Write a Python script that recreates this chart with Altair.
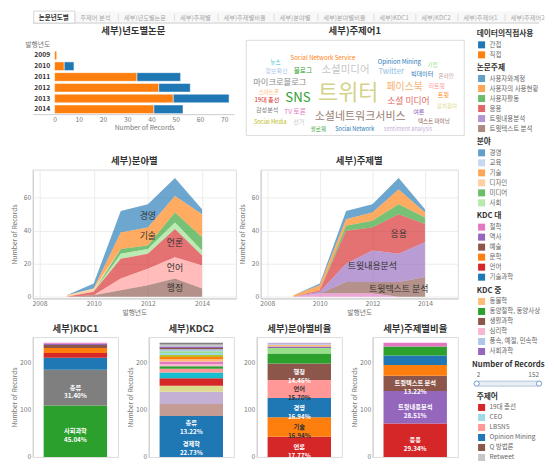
import math
import altair as alt
import pandas as pd

FONT = "Noto Sans CJK KR"

T10 = ["#1f77b4", "#ff7f0e", "#2ca02c", "#d62728", "#9467bd", "#8c564b",
       "#e377c2", "#7f7f7f", "#bcbd22", "#17becf"]
T20 = ["#1f77b4", "#aec7e8", "#ff7f0e", "#ffbb78", "#2ca02c", "#98df8a",
       "#d62728", "#ff9896", "#9467bd", "#c5b0d5", "#8c564b", "#c49c94",
       "#e377c2", "#f7b6d2", "#7f7f7f", "#c7c7c7", "#bcbd22", "#dbdb8d",
       "#17becf", "#9edae5"]

# ---------------- data ----------------
tab_names = ["논문년도별", "주제어 분석", "세부)년도별논문", "세부)주제별", "세부)주제별비율",
             "세부)분야별", "세부)분야별비율", "세부)KDC1", "세부)KDC2", "세부)주제어1", "세부)주제어2"]
selected_tab = "논문년도별"

years = [2009, 2010, 2011, 2012, 2013, 2014]
year_header = "발행년도"
use_names = ["간접", "직접"]
indirect_counts = [0, 4, 18, 13, 23, 12]
direct_counts = [1, 4, 34, 43, 49, 41]

field_names = ["경영", "교육", "기술", "디자인", "미디어", "사회", "언론", "언어", "정치", "통신", "행정"]
field_mgmt = [0, 3, 13, 14, 11, 3]
field_edu = [0, 0, 0, 0, 0, 0]
field_tech = [0, 0, 10, 11, 10, 14]
field_design = [1, 2, 0, 0, 0, 0]
field_media = [0, 0, 3, 2, 6, 8]
field_society = [0, 0, 3, 3, 4, 3]
field_press = [0, 2, 12, 9, 17, 6]
field_lang = [0, 0, 7, 10, 13, 14]
field_politics = [0, 0, 0, 0, 0, 0]
field_comm = [0, 0, 0, 0, 0, 0]
field_admin = [0, 1, 4, 7, 11, 5]
field_labeled = ["경영", "기술", "언론", "언어", "행정"]

topic_names = ["사용자와계정", "사용자의 사용현황", "사용자활동", "응용", "트윗내용분석", "트윗텍스트 분석", "트윗확산"]
topic_account = [0, 1, 5, 5, 7, 2]
topic_usage = [1, 3, 4, 5, 9, 3]
topic_activity = [0, 0, 3, 4, 6, 4]
topic_apply = [0, 1, 20, 14, 24, 11]
topic_content = [0, 1, 11, 19, 17, 21]
topic_text = [0, 0, 7, 7, 9, 12]
topic_spread = [0, 2, 2, 2, 0, 0]
topic_labeled = ["응용", "트윗내용분석", "트윗텍스트 분석"]

kdc_major_domain = ["기술과학", "문학", "사회과학", "언어", "역사", "예술", "철학", "총류"]
kdc1_names = ["사회과학", "총류", "기술과학", "언어", "문학", "예술", "역사", "철학"]
kdc1_counts = [109, 76, 25, 10, 11, 6, 3, 2]

kdc2_names = ["경제학", "총류", "사회학, 사회문제", "정치학", "행정학", "신문, 저널리즘", "교육학", "법학",
              "동양철학, 동양사상", "심리학", "철학", "동물학", "예술", "문학", "통계학", "언어학",
              "풍속, 예절, 민속학", "생활과학", "사회과학", "컴퓨터과학", "역사"]
kdc2_counts = [55, 32, 25, 26, 13, 16, 12, 8, 5, 5, 5, 5, 5, 4, 4, 4, 4, 3, 3, 4, 4]
kdc2_colors = ["#1f77b4", "#1f77b4", "#c49c94", "#c5b0d5", "#dbdb8d", "#d62728", "#17becf", "#ff9896",
               "#2ca02c", "#f7b6d2", "#e377c2", "#ffbb78", "#ff7f0e", "#bcbd22", "#9edae5", "#98df8a",
               "#aec7e8", "#8c564b", "#9467bd", "#c7c7c7", "#7f7f7f"]

ratio_field_names = ["언론", "기술", "경영", "언어", "행정", "미디어", "사회", "정치", "디자인", "교육", "통신"]
ratio_field_counts = [43, 41, 41, 38, 35, 21, 12, 3, 3, 2, 3]

ratio_topic_names = ["응용", "트윗내용분석", "트윗텍스트 분석", "사용자의 사용현황", "사용자와계정", "사용자활동", "트윗확산"]
ratio_topic_counts = [71, 69, 32, 23, 20, 19, 8]

legend_kdc_major = ["철학", "역사", "예술", "문학", "언어", "기술과학"]
legend_kdc_mid = ["동물학", "동양철학, 동양사상", "생활과학", "심리학", "풍속, 예절, 민속학", "사회과학"]
legend_kdc_mid_colors = ["#ffbb78", "#2ca02c", "#8c564b", "#f7b6d2", "#aec7e8", "#9467bd"]
legend_keywords = ["19대 총선", "CEO", "LBSNS", "Opinion Mining", "Q 방법론", "Retweet"]
legend_keyword_colors = ["#d62728", "#9edae5", "#ff9896", "#1f77b4", "#8c564b", "#c7c7c7"]

records_min = 2
records_max = 152

cloud_words = ["트위터", "SNS", "소셜네트워크서비스", "소셜미디어", "페이스북", "소셜 미디어", "마이크로블로그",
               "Twitter", "TV 토론", "블로그", "Social Network Service", "Opinion Mining", "19대 총선",
               "빅데이터", "리트윗", "Social Network", "sentiment analysis", "Social Media",
               "감성분석", "정보확산", "스마트폰", "텍스트 마이닝", "네트워크 분석", "정치참여", "커뮤니케이션",
               "팔로워", "해시태그", "사회자본", "이용동기", "여론", "선거", "온라인", "모바일", "뉴스",
               "정치인", "기업", "홍보", "광고", "저널리즘", "공공기관", "위치기반서비스", "신뢰", "영향력",
               "소통", "이슈", "재난", "트윗", "형태소 분석", "군집분석", "사회연결망", "인플루언서",
               "정보공유", "소셜 네트워크", "공중관계", "뉴미디어", "유명인", "정당", "투표", "시민",
               "도서관", "마케팅", "브랜드", "대학생", "청소년", "언론사", "기자", "방송", "토픽모델링",
               "연결망", "매개중심성", "의제설정", "정치커뮤니케이션", "자기노출", "프라이버시", "이용자",
               "만족도", "사회적 지지", "데이터 마이닝", "위기관리", "정부", "지방자치단체", "관광",
               "감정분석", "사용자 행태", "정보검색", "추천시스템", "스팸", "루머", "집단지성", "참여",
               "전자정부", "공공도서관", "정보서비스", "온라인 커뮤니티", "질적연구", "내용분석",
               "Retweet", "CEO", "LBSNS", "URL", "Q 방법론", "CMC", "Hashtag", "Big Data", "Web 2.0"]
cloud_weights = [32, 16, 12, 11, 10, 8, 7,
                 6, 4, 4, 3, 3, 3,
                 3, 3, 2, 2, 2,
                 3, 3, 2, 2, 2, 2, 2,
                 2, 2, 2, 2, 3, 3, 2, 2, 2,
                 2, 2, 2, 2, 2, 2, 2, 2, 2,
                 2, 2, 2, 3, 2, 2, 2, 2,
                 2, 2, 2, 2, 2, 2, 2, 2,
                 2, 2, 2, 2, 2, 2, 2, 2, 2,
                 2, 2, 2, 2, 2, 2, 2,
                 2, 2, 2, 2, 2, 2, 2,
                 2, 2, 2, 2, 2, 2, 2, 2,
                 2, 2, 2, 2, 2, 2,
                 2, 2, 2, 2, 2, 2, 2, 2, 2]
cloud_named_colors = {"트위터": "#d4d28c", "SNS": "#2ca02c", "소셜네트워크서비스": "#9c8175",
                      "소셜미디어": "#c7c7c7", "페이스북": "#f7b26e", "소셜 미디어": "#e06b66",
                      "마이크로블로그": "#8a8a8a", "Twitter": "#8fbbe0", "TV 토론": "#e377c2",
                      "블로그": "#2ca02c", "Social Network Service": "#ff7f0e",
                      "Opinion Mining": "#1f77b4", "19대 총선": "#d62728", "Social Network": "#1f77b4",
                      "Retweet": "#c7c7c7", "CEO": "#9edae5", "LBSNS": "#ff9896", "Q 방법론": "#8c564b"}


# ---------------- helpers ----------------
def text_w(s, fs):
    w = 0.0
    for ch in s:
        o = ord(ch)
        if 0xAC00 <= o <= 0xD7A3:
            w += 1.0
        elif ch == " ":
            w += 0.3
        elif ch.isupper():
            w += 0.72
        elif ch.isdigit():
            w += 0.58
        elif ch in "iljtf.,:;|!()'":
            w += 0.32
        elif ch in "mw":
            w += 0.88
        else:
            w += 0.6
    return w * fs


def text_color_for(hex_color):
    r = int(hex_color[1:3], 16) / 255
    g = int(hex_color[3:5], 16) / 255
    b = int(hex_color[5:7], 16) / 255
    lum = 0.2126 * r + 0.7152 * g + 0.0722 * b
    return "#333333" if lum > 0.55 else "#ffffff"


NOBOX = alt.ViewBackground(stroke="transparent")
AX_EXT = 13      # fixed extent of left axes (labels part)
LEFT_EXT = 24    # left overhang of the first column (axis labels + title)
LEFT_PAD = 3
TOTAL_W = 538 - LEFT_PAD

# ---------------- tab bar ----------------
tab_fs = 6.3
tab_rows = []
cur = 30
for nm in tab_names:
    w = text_w(nm, tab_fs)
    tab_rows.append({"name": nm, "tx": cur, "x1": cur - 5, "x2": cur + w + 5,
                     "sel": 1 if nm == selected_tab else 0})
    cur += w + 10.5
tab_df = pd.DataFrame(tab_rows)
tab_df = tab_df[tab_df["tx"] + 10 < TOTAL_W]
xs_tab = alt.Scale(domain=[LEFT_EXT, TOTAL_W], nice=False, zero=False)
tab_sel = alt.Chart(tab_df).transform_filter("datum.sel == 1").mark_rect(
    fill="white", stroke="#cccccc", strokeWidth=0.8).encode(
    x=alt.X("x1:Q", scale=xs_tab, axis=None), x2="x2:Q", y=alt.value(0), y2=alt.value(12))
tab_sep = alt.Chart(tab_df).transform_filter("datum.x2 < %d" % TOTAL_W).mark_rule(color="#dddddd").encode(
    x=alt.X("x2:Q", scale=xs_tab, axis=None), y=alt.value(3), y2=alt.value(10))
tab_line = alt.Chart(pd.DataFrame({"a": [LEFT_EXT], "b": [TOTAL_W]})).mark_rule(color="#cccccc").encode(
    x=alt.X("a:Q", scale=xs_tab, axis=None), x2="b:Q", y=alt.value(12))
tab_txt_n = alt.Chart(tab_df).transform_filter("datum.sel == 0").mark_text(
    align="left", baseline="middle", fontSize=tab_fs, color="#aaaaaa").encode(
    x=alt.X("tx:Q", scale=xs_tab, axis=None), y=alt.value(6.5), text="name:N")
tab_txt_s = alt.Chart(tab_df).transform_filter("datum.sel == 1").mark_text(
    align="left", baseline="middle", fontSize=6.6, fontWeight="bold", color="#333333").encode(
    x=alt.X("tx:Q", scale=xs_tab, axis=None), y=alt.value(6.5), text="name:N")
tabs = alt.layer(tab_line, tab_sel, tab_sep, tab_txt_n, tab_txt_s).properties(
    width=TOTAL_W - LEFT_EXT, height=12, view=alt.ViewBackground(stroke="transparent", fill="#f8f8f8"))

# ---------------- year bar chart ----------------
bar_rows = []
for y, d, i in zip(years, direct_counts, indirect_counts):
    bar_rows.append({"yl": str(y), "kind": "직접", "count": d, "ord": 0})
    bar_rows.append({"yl": str(y), "kind": "간접", "count": i, "ord": 1})
bar_df = pd.DataFrame(bar_rows)
BAR_W = 203
BAR_IN = 22
bar_xmax = 74
bar_xmin = -BAR_IN * bar_xmax / (BAR_W - BAR_IN)
year_bar = alt.Chart(bar_df).mark_bar(stroke="white", strokeWidth=0.5).encode(
    y=alt.Y("yl:N", scale=alt.Scale(domain=[year_header] + [str(y) for y in years],
                                    paddingInner=0.2, paddingOuter=0.05),
            axis=alt.Axis(title=None, offset=-BAR_IN, domain=False, ticks=False, labelPadding=5,
                          labelFontWeight={"condition": {"test": "datum.value == '%s'" % year_header,
                                                         "value": "normal"}, "value": "bold"},
                          labelColor={"condition": {"test": "datum.value == '%s'" % year_header,
                                                    "value": "#777777"}, "value": "#333333"})),
    x=alt.X("count:Q", stack="zero", scale=alt.Scale(domain=[bar_xmin, bar_xmax], nice=False, zero=False),
            axis=alt.Axis(values=list(range(0, 80, 10)), title="Number of Records", grid=False,
                          titleX=BAR_IN + (BAR_W - BAR_IN) / 2)),
    color=alt.Color("kind:N", scale=alt.Scale(domain=use_names, range=["#1f77b4", "#ff7f0e"]), legend=None),
    order=alt.Order("ord:Q"),
).properties(width=BAR_W, height=75, title="세부)년도별논문", view=NOBOX)

# ---------------- word cloud ----------------
CW, CH = 220, 96


def layout_cloud(words, weights):
    order = sorted(range(len(words)), key=lambda k: -weights[k])
    boxes, rows = [], []
    cx, cy = CW * 0.47, CH * 0.56
    ci = 0
    for k in order:
        fs = 4.5 + 0.55 * weights[k]
        w = text_w(words[k], fs) + 3
        h = fs * 1.4 + 0.4
        t = 0.0
        while t < 160:
            r = 0.27 * t
            x = cx + 2.7 * r * math.cos(t)
            y = cy + r * math.sin(t)
            b = (x - w / 2, y - h / 2, x + w / 2, y + h / 2)
            if b[0] >= 3 and b[2] <= CW - 3 and b[1] >= 10 and b[3] <= CH:
                if not any(b[0] < c[2] and b[2] > c[0] and b[1] < c[3] and b[3] > c[1] for c in boxes):
                    boxes.append(b)
                    col = cloud_named_colors.get(words[k])
                    if col is None:
                        col = T20[(ci * 7) % 20]
                        ci += 1
                    rows.append({"word": words[k], "x": x, "y": y, "fs": fs, "color": col})
                    break
            t += 0.05
    return pd.DataFrame(rows)


cloud_df = layout_cloud(cloud_words, cloud_weights)
cloud = alt.Chart(cloud_df).mark_text(align="center", baseline="middle").encode(
    x=alt.X("x:Q", scale=alt.Scale(domain=[0, CW], nice=False, zero=False), axis=None),
    y=alt.Y("y:Q", scale=alt.Scale(domain=[0, CH], nice=False, zero=False, reverse=True), axis=None),
    text="word:N",
    size=alt.Size("fs:Q", scale=None),
    color=alt.Color("color:N", scale=None),
).properties(width=CW, height=CH, title="세부)주제어1")


# ---------------- area charts ----------------
def area_chart(title, names, series, colors, labeled, width):
    n = len(names)
    rows = []
    for i, (nm, vals) in enumerate(zip(names, series)):
        for y, v in zip(years, vals):
            rows.append({"year": y, "name": nm, "value": v, "ord": n - i})
    df = pd.DataFrame(rows)
    lab = []
    for nm in labeled:
        i = names.index(nm)
        vals = series[i]
        best = max(range(2, 5), key=lambda j: vals[j])
        below = sum(series[k][best] for k in range(i + 1, n))
        lab.append({"name": nm, "year": years[best], "mid": below + vals[best] / 2})
    lab_df = pd.DataFrame(lab)
    xs = alt.Scale(domain=[2007.75, 2015.25], nice=False, zero=False)
    ys = alt.Scale(domain=[-1, 77], nice=False, zero=False)
    area = alt.Chart(df).mark_area(opacity=0.65).encode(
        x=alt.X("year:Q", scale=xs, axis=alt.Axis(values=list(range(2008, 2016)), format="d",
                                                   title="발행년도", grid=True, labelFlush=False)),
        y=alt.Y("value:Q", stack="zero", scale=ys,
                axis=alt.Axis(values=[0, 20, 40, 60], title="Number of Records", grid=True,
                              minExtent=AX_EXT, maxExtent=AX_EXT)),
        color=alt.Color("name:N", scale=alt.Scale(domain=names, range=colors), legend=None),
        order=alt.Order("ord:Q"),
    )
    txt = alt.Chart(lab_df).mark_text(fontSize=9, color="#333333", baseline="middle").encode(
        x=alt.X("year:Q", scale=xs), y=alt.Y("mid:Q", scale=ys), text="name:N")
    return alt.layer(area, txt).properties(width=width, height=130, title=title)


area1 = area_chart("세부)분야별", field_names,
                   [field_mgmt, field_edu, field_tech, field_design, field_media, field_society,
                    field_press, field_lang, field_politics, field_comm, field_admin],
                   T20[:11], field_labeled, 205)
area2 = area_chart("세부)주제별", topic_names,
                   [topic_account, topic_usage, topic_activity, topic_apply, topic_content,
                    topic_text, topic_spread],
                   T10[:7], topic_labeled, 199)


# ---------------- stacked ratio bars ----------------
def ratio_chart(title, names, counts, colors, axis_title=True):
    total = sum(counts)
    df = pd.DataFrame({"name": names, "count": counts, "color": colors})
    df["ord"] = range(len(df))
    df["k"] = "all"
    df["top"] = df["count"].cumsum()
    df["mid"] = df["top"] - df["count"] / 2
    df["pct"] = df["count"] / total * 100
    df["txt"] = [f"{nm}\n{p:.2f}%" if p >= 12 else "" for nm, p in zip(df["name"], df["pct"])]
    df["tc"] = [text_color_for(c) for c in df["color"]]
    ys = alt.Scale(domain=[0, 254], nice=False)
    yax = alt.Axis(values=[0, 50, 100, 150, 200, 250], grid=False, minExtent=AX_EXT, maxExtent=AX_EXT,
                   title="Number of Records" if axis_title else None)
    bars = alt.Chart(df).mark_bar(size=64).encode(
        x=alt.X("k:N", axis=None),
        y=alt.Y("count:Q", stack="zero", scale=ys, axis=yax),
        color=alt.Color("color:N", scale=None),
        order=alt.Order("ord:Q"),
    )
    txt = alt.Chart(df).transform_filter("datum.txt != ''").mark_text(
        lineBreak="\n", fontSize=6.3, fontWeight="bold", baseline="middle", lineHeight=9).encode(
        x=alt.X("k:N", axis=None), y=alt.Y("mid:Q", scale=ys), text="txt:N",
        color=alt.Color("tc:N", scale=None))
    return alt.layer(bars, txt).properties(width=86, height=121, title=title)


kdc1_colors = [T10[kdc_major_domain.index(n)] for n in kdc1_names]
kdc1 = ratio_chart("세부)KDC1", kdc1_names, kdc1_counts, kdc1_colors)
kdc2 = ratio_chart("세부)KDC2", kdc2_names, kdc2_counts, kdc2_colors)
ratio_field = ratio_chart("세부)분야별비율", ratio_field_names, ratio_field_counts,
                          [T20[field_names.index(n)] for n in ratio_field_names], axis_title=False)
ratio_topic = ratio_chart("세부)주제별비율", ratio_topic_names, ratio_topic_counts,
                          [T10[topic_names.index(n)] for n in ratio_topic_names])

# ---------------- legends column ----------------
LEG_W = 67
LEG_STEP = 10.1


def legend_block(title, labels, colors, opacity=1.0):
    df = pd.DataFrame({"label": labels, "color": colors})
    ey = alt.Y("label:N", sort=labels, axis=None)
    sq = alt.Chart(df).mark_square(size=50, opacity=opacity).encode(
        x=alt.value(5), y=ey, color=alt.Color("color:N", scale=None))
    tt = alt.Chart(df).mark_text(align="left", baseline="middle", fontSize=6.5, color="#666666").encode(
        x=alt.value(13), y=ey, text="label:N")
    return alt.layer(sq, tt).properties(
        width=LEG_W, height=LEG_STEP * len(labels), view=NOBOX,
        title=alt.TitleParams(title, anchor="start", fontSize=7.8, fontWeight="bold", color="#333333", offset=2))


leg1 = legend_block("데이터의직접사용", use_names, ["#1f77b4", "#ff7f0e"])
leg2 = legend_block("논문주제", topic_names[:6], T10[:6], opacity=0.7)
leg3 = legend_block("분야", field_names[:6], T20[:6], opacity=0.7)
leg4 = legend_block("KDC 대", legend_kdc_major, [T10[kdc_major_domain.index(n)] for n in legend_kdc_major])
leg5 = legend_block("KDC 중", legend_kdc_mid, legend_kdc_mid_colors)

sl_df = pd.DataFrame({"lo": [records_min], "hi": [records_max]})
sl_pts = pd.DataFrame({"v": [records_min, records_max]})
sl_x = alt.Scale(domain=[records_min, records_max], nice=False, zero=False)
sl_track = alt.Chart(sl_df).mark_bar(height=5, cornerRadius=2.5, color="#e9eef4", stroke="#9db7d1",
                                     strokeWidth=0.8).encode(
    x=alt.X("lo:Q", scale=sl_x, axis=None), x2="hi:Q", y=alt.value(13))
sl_handles = alt.Chart(sl_pts).mark_circle(size=28, color="white", stroke="#6d9bc8", strokeWidth=1,
                                           opacity=1).encode(
    x=alt.X("v:Q", scale=sl_x, axis=None), y=alt.value(13))
sl_lo = alt.Chart(sl_df).mark_text(align="left", baseline="middle", fontSize=6.5, color="#666666").encode(
    x=alt.X("lo:Q", scale=sl_x, axis=None), y=alt.value(4), text="lo:Q")
sl_hi = alt.Chart(sl_df).mark_text(align="right", baseline="middle", fontSize=6.5, color="#666666").encode(
    x=alt.X("hi:Q", scale=sl_x, axis=None), y=alt.value(4), text="hi:Q")
slider = alt.layer(sl_track, sl_handles, sl_lo, sl_hi).properties(
    width=LEG_W - 4, height=17, view=NOBOX,
    title=alt.TitleParams("Number of Records", anchor="start", fontSize=7.8, fontWeight="bold",
                          color="#333333", offset=2))
leg7 = legend_block("주제어", legend_keywords, legend_keyword_colors)

legend_col = alt.vconcat(leg1, leg2, leg3, leg4, leg5, slider, leg7, spacing=2).resolve_scale(
    color="independent")

# ---------------- assemble ----------------
row1 = alt.hconcat(year_bar, cloud, spacing=10).resolve_scale(color="independent")
row2 = alt.hconcat(area1, area2, spacing=2).resolve_scale(color="independent")
row3 = alt.hconcat(kdc1, kdc2, ratio_field, ratio_topic, spacing=8).resolve_scale(color="independent")
lower = alt.vconcat(row2, row3, spacing=6).resolve_scale(color="independent")
main = alt.vconcat(row1, lower, spacing=20).resolve_scale(color="independent")
body = alt.hconcat(main, legend_col, spacing=6).resolve_scale(color="independent")

chart = alt.vconcat(tabs, body, spacing=2).resolve_scale(color="independent").properties(
    padding={"left": LEFT_PAD, "top": 0, "right": 0, "bottom": 0}
).configure(
    font=FONT
).configure_axis(
    labelFontSize=6.8, labelColor="#777777", titleFontSize=6.8, titleColor="#777777",
    titleFontWeight="normal", domainColor="#cccccc", ticks=False,
    gridColor="#ececec", labelPadding=2, titlePadding=2
).configure_title(
    fontSize=9.5, fontWeight="bold", color="#333333", offset=4
).configure_view(stroke="#dcdcdc")

chart.save("out.html", embed_options={"renderer": "svg", "actions": False})
